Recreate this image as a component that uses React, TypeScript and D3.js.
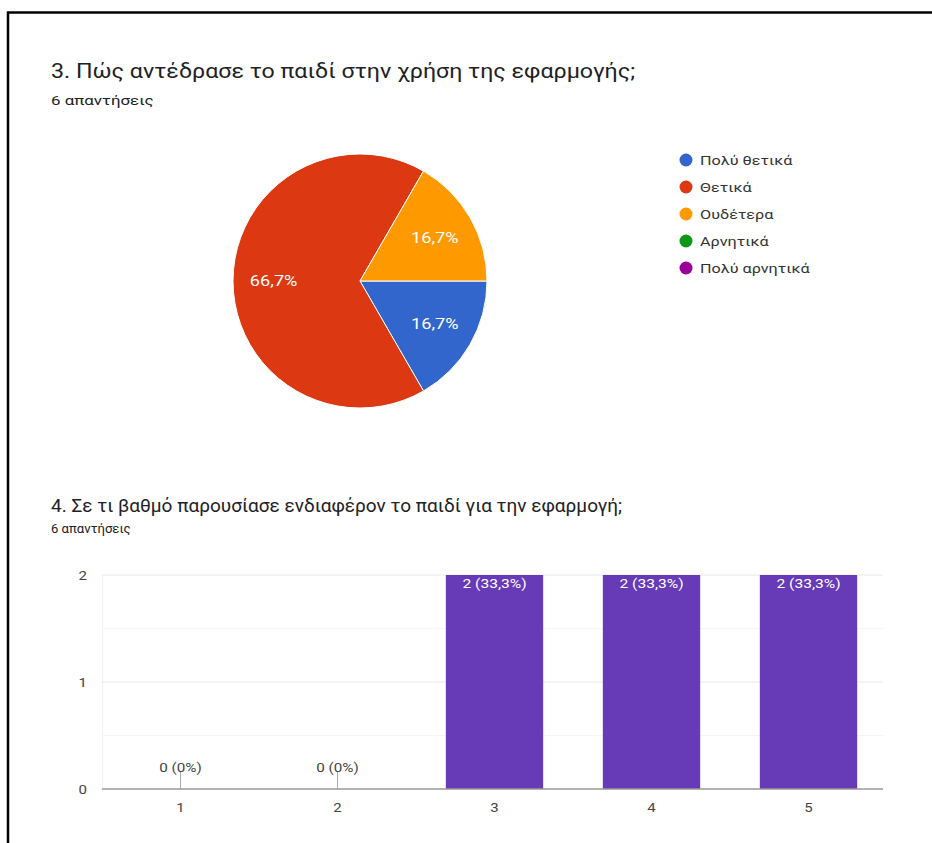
import React from "react";
import * as d3 from "d3";

const pieLabels = ["Πολύ θετικά", "Θετικά", "Ουδέτερα", "Αρνητικά", "Πολύ αρνητικά"];
const pieValues = [1, 4, 1, 0, 0];
const pieColors = ["#3366cc", "#dc3912", "#ff9900", "#109618", "#990099"];

const barCategories = ["1", "2", "3", "4", "5"];
const barValues = [0, 0, 2, 2, 2];
const barLabels = ["0 (0%)", "0 (0%)", "2 (33,3%)", "2 (33,3%)", "2 (33,3%)"];
const yTicks = [0, 1, 2];

const title1 = "3. Πώς αντέδρασε το παιδί στην χρήση της εφαρμογής;";
const title2 = "4. Σε τι βαθμό παρουσίασε ενδιαφέρον το παιδί για την εφαρμογή;";
const responses = "6 απαντήσεις";

const W = 932;
const H = 843;
const FONT = "Roboto, 'Noto Sans', sans-serif";

type STProps = {
  x: number;
  y: number;
  sx: number;
  size: number;
  fill: string;
  anchor?: "start" | "middle" | "end";
  central?: boolean;
  children: React.ReactNode;
};

function ST({ x, y, sx, size, fill, anchor = "start", central = false, children }: STProps) {
  return (
    <text
      transform={`translate(${x},${y}) scale(${sx},1)`}
      fontSize={size}
      fill={fill}
      textAnchor={anchor}
      dominantBaseline={central ? "central" : undefined}
    >
      {children}
    </text>
  );
}

export default function App() {
  const total = d3.sum(pieValues);
  const pieGen = d3
    .pie<number>()
    .sort(null)
    .startAngle(Math.PI / 2)
    .endAngle(Math.PI / 2 + 2 * Math.PI);
  const arcs = pieGen(pieValues);
  const R = 127;
  const arcGen = d3.arc<d3.PieArcDatum<number>>().innerRadius(0).outerRadius(R);
  const labelArc = d3.arc<d3.PieArcDatum<number>>().innerRadius(R * 0.68).outerRadius(R * 0.68);
  const cx = 360;
  const cy = 281;

  const x = d3.scaleBand().domain(barCategories).range([102, 887]).paddingInner(0.38).paddingOuter(0.19);
  const y = d3.scaleLinear().domain([0, 2]).range([789, 575]);
  const minor = [0.5, 1.5];

  return (
    <svg
      width={W}
      height={H}
      style={{ position: "absolute", left: 0, top: 0, background: "#fff" }}
      fontFamily={FONT}
    >
      <rect x={0} y={0} width={W} height={H} fill="#fff" />
      {/* frame */}
      <path d={`M8,${H} L8,12.5 L${W},12.5`} fill="none" stroke="#000" strokeWidth={2.5} />

      {/* Titles */}
      <ST x={51} y={78} sx={1.19} size={19.5} fill="#202124">{title1}</ST>
      <ST x={51} y={105} sx={1.3} size={13} fill="#202124">{responses}</ST>

      {/* Pie */}
      <g transform={`translate(${cx},${cy})`}>
        {arcs.map((a, i) =>
          a.value > 0 ? (
            <path key={i} d={arcGen(a) || ""} fill={pieColors[i]} stroke="#fff" strokeWidth={1} />
          ) : null
        )}
        {arcs.map((a, i) => {
          if (a.value <= 0) return null;
          const [lx, ly] = labelArc.centroid(a);
          const pct = ((a.value / total) * 100).toFixed(1).replace(".", ",") + "%";
          return (
            <ST key={"l" + i} x={lx} y={ly} sx={1.3} size={14} fill="#fff" anchor="middle" central>
              {pct}
            </ST>
          );
        })}
      </g>

      {/* Legend */}
      {pieLabels.map((l, i) => (
        <g key={l} transform={`translate(686,${160 + i * 27})`}>
          <circle r={6.5} fill={pieColors[i]} />
          <ST x={14} y={0} sx={1.2} size={13.5} fill="#333" central>{l}</ST>
        </g>
      ))}

      {/* Second chart titles */}
      <ST x={51} y={512} sx={1.0} size={19} fill="#202124">{title2}</ST>
      <ST x={51} y={533} sx={1.05} size={12.5} fill="#202124">{responses}</ST>

      {/* Grid */}
      <line x1={102.5} x2={102.5} y1={575} y2={789} stroke="#f3f3f3" />
      {minor.map((t) => (
        <line key={"m" + t} x1={102} x2={883} y1={y(t)} y2={y(t)} stroke="#f4f4f4" />
      ))}
      {yTicks.map((t) => (
        <g key={"y" + t}>
          {t > 0 && <line x1={102} x2={883} y1={y(t)} y2={y(t)} stroke="#e8e8e8" />}
          <ST x={87} y={y(t)} sx={1.2} size={12.5} fill="#444" anchor="end" central>{t}</ST>
        </g>
      ))}

      {/* Bars */}
      {barCategories.map((c, i) => {
        const bx = x(c) as number;
        const bw = x.bandwidth();
        const v = barValues[i];
        const mid = bx + bw / 2;
        if (v > 0) {
          return (
            <g key={c}>
              <rect x={bx} y={y(v)} width={bw} height={y(0) - y(v)} fill="#673ab7" />
              <ST x={mid} y={y(v) + 9} sx={1.25} size={12.5} fill="#fff" anchor="middle" central>
                {barLabels[i]}
              </ST>
            </g>
          );
        }
        return (
          <g key={c}>
            <line x1={mid} x2={mid} y1={y(0) - 17} y2={y(0)} stroke="#aaa" strokeWidth={1} />
            <ST x={mid} y={y(0) - 21} sx={1.22} size={12.5} fill="#444" anchor="middle" central>
              {barLabels[i]}
            </ST>
          </g>
        );
      })}

      {/* Baseline */}
      <line x1={102} x2={883} y1={y(0)} y2={y(0)} stroke="#999" strokeWidth={1.5} />

      {/* X labels */}
      {barCategories.map((c) => (
        <ST key={"x" + c} x={(x(c) as number) + x.bandwidth() / 2} y={807} sx={1.2} size={12.5} fill="#444" anchor="middle" central>
          {c}
        </ST>
      ))}
    </svg>
  );
}
